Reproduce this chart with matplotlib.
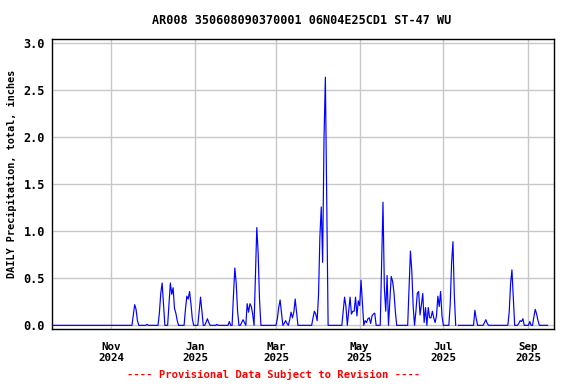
import matplotlib
matplotlib.use("Agg")
import matplotlib.pyplot as plt
import numpy as np
import pandas as pd

# ---- data (inches per day) ----
series_start = "2024-09-19"
series_end = "2025-09-15"
missing_dates = ["2025-07-11"]

event_starts = [
    "2024-11-17", "2024-11-27", "2024-12-06", "2024-12-13", "2024-12-25",
    "2025-01-04", "2025-01-09", "2025-01-17", "2025-01-26", "2025-01-29",
    "2025-02-04", "2025-02-08", "2025-02-14", "2025-03-02", "2025-03-07",
    "2025-03-11", "2025-03-28", "2025-04-01", "2025-04-19", "2025-04-23",
    "2025-04-26", "2025-04-30", "2025-05-05", "2025-05-17", "2025-05-23",
    "2025-06-06", "2025-06-11", "2025-07-06", "2025-07-24", "2025-07-31",
    "2025-08-18", "2025-08-25", "2025-09-02", "2025-09-05",
]
event_amounts = [
    [0.11, 0.22, 0.17, 0.05],
    [0.01],
    [0.13, 0.34, 0.45, 0.23],
    [0.23, 0.45, 0.33, 0.40, 0.18, 0.13, 0.05],
    [0.17, 0.31, 0.28, 0.36, 0.23, 0.07],
    [0.15, 0.30, 0.15],
    [0.03, 0.07, 0.03],
    [0.01],
    [0.04],
    [0.32, 0.61, 0.45, 0.15],
    [0.03, 0.06, 0.03],
    [0.23, 0.14, 0.23, 0.20, 0.12],
    [0.52, 1.04, 0.77, 0.27],
    [0.07, 0.19, 0.27, 0.13],
    [0.02, 0.05, 0.02],
    [0.06, 0.14, 0.08, 0.14, 0.28, 0.14],
    [0.08, 0.15, 0.12, 0.05],
    [0.32, 0.94, 1.26, 0.67, 1.98, 2.64, 1.32],
    [0.15, 0.30, 0.20],
    [0.15, 0.30, 0.12],
    [0.15, 0.15, 0.30, 0.10],
    [0.26, 0.21, 0.48, 0.24],
    [0.05, 0.03, 0.07, 0.08, 0.02, 0.10, 0.12, 0.13],
    [0.66, 1.31, 0.40, 0.15, 0.53],
    [0.26, 0.52, 0.47, 0.35, 0.15],
    [0.40, 0.79, 0.58, 0.20],
    [0.15, 0.34, 0.36, 0.11, 0.22, 0.34, 0.03, 0.19, 0.0, 0.19,
     0.08, 0.08, 0.15, 0.08, 0.03, 0.10, 0.31, 0.20, 0.36, 0.10],
    [0.22, 0.66, 0.89, 0.32],
    [0.16, 0.07],
    [0.03, 0.06, 0.02],
    [0.14, 0.44, 0.59, 0.29],
    [0.02, 0.05, 0.04, 0.07],
    [0.04],
    [0.09, 0.17, 0.12, 0.05],
]

tick_dates = ["2024-11-01", "2025-01-01", "2025-03-01", "2025-05-01", "2025-07-01", "2025-09-01"]
tick_labels = ["Nov\n2024", "Jan\n2025", "Mar\n2025", "May\n2025", "Jul\n2025", "Sep\n2025"]
y_ticks = [0.0, 0.5, 1.0, 1.5, 2.0, 2.5, 3.0]

title = "AR008 350608090370001 06N04E25CD1 ST-47 WU"
ylabel = "DAILY Precipitation, total, inches"
footer = "---- Provisional Data Subject to Revision ----"

# ---- build daily series ----
days = pd.date_range(series_start, series_end, freq="D")
precip = pd.Series(0.0, index=days)
for start, amounts in zip(event_starts, event_amounts):
    idx = pd.date_range(start, periods=len(amounts), freq="D")
    precip.loc[idx] = amounts
precip.loc[pd.to_datetime(missing_dates)] = np.nan

# ---- figure ----
font = "DejaVu Sans Mono"
fig = plt.figure(figsize=(5.76, 3.84), dpi=100)
ax = fig.add_axes([51.7 / 576, 1 - 329 / 384, (554 - 51.7) / 576, (329 - 39.3) / 384])

ax.plot(precip.index, precip.values, color="#0000FF", lw=0.85, zorder=3)

ax.set_xlim(pd.Timestamp("2024-09-18 12:00"), pd.Timestamp("2025-09-19 16:00"))
ax.set_ylim(-0.039, 3.043)

ax.set_xticks(pd.to_datetime(tick_dates))
ax.set_xticklabels(tick_labels, fontfamily=font, fontweight="bold", fontsize=7.8)
ax.set_yticks(y_ticks)
ax.set_yticklabels([f"{v:.1f}" for v in y_ticks], fontfamily=font, fontweight="bold", fontsize=8.6)
ax.tick_params(axis="both", length=0)
ax.tick_params(axis="x", pad=9)
ax.tick_params(axis="y", pad=5)

ax.grid(True, color="#c8c8c8", lw=1.0, zorder=1)
for sp in ax.spines.values():
    sp.set_linewidth(1.0)
    sp.set_color("black")

fig.text(301.5 / 576, 1 - 20 / 384, title, ha="center", va="center",
         fontfamily=font, fontweight="bold", fontsize=8.5)
fig.text(11.7 / 576, 1 - 174 / 384, ylabel, ha="center", va="center", rotation=90,
         fontfamily=font, fontweight="bold", fontsize=7.4)
fig.text(273.5 / 576, 1 - 374.3 / 384, footer, ha="center", va="center",
         fontfamily=font, fontweight="bold", fontsize=7.6, color="red")

fig.savefig("out.png", dpi=100)
